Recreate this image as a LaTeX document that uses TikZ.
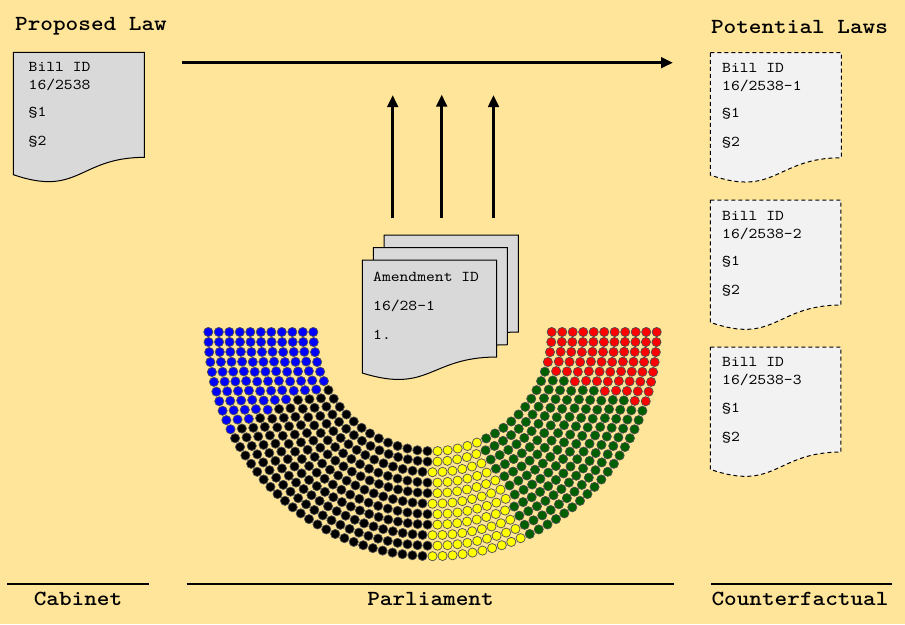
\documentclass[tikz,border=0pt]{standalone}
\usepackage{fontspec}
\setmonofont{lmmono10-regular.otf}[BoldFont=lmmonolt10-bold.otf, FakeStretch=1.12]
\usetikzlibrary{arrows.meta}
\definecolor{bg}{HTML}{FFE599}
\definecolor{docgray}{HTML}{D9D9D9}
\definecolor{doclight}{HTML}{F2F2F2}
\definecolor{sblue}{HTML}{0000FF}
\definecolor{sblack}{HTML}{000000}
\definecolor{syellow}{HTML}{FFFF00}
\definecolor{sgreen}{HTML}{006000}
\definecolor{sred}{HTML}{FF0000}
\definecolor{seatedge}{HTML}{505050}
% #1 style, #2 x, #3 y, #4 w, #5 h
\newcommand{\mydoc}[5]{%
  \draw[#1] (#2,#3) -- ({#2+#4},#3) -- ({#2+#4},{#3+0.802*#5})
    .. controls ({#2+#4/2},{#3+0.802*#5}) and ({#2+#4/2},{#3+1.1075*#5}) ..
    (#2,{#3+0.934*#5}) -- cycle;}
\begin{document}
\begin{tikzpicture}[x=1pt,y=-1pt,
  doctext/.style={anchor=west, inner sep=0pt, font=\ttfamily\fontsize{15}{18}\selectfont},
  titletext/.style={inner sep=0pt, font=\ttfamily\bfseries\fontsize{21.5}{25}\selectfont},
  solidoc/.style={draw=black, fill=docgray, line width=1pt},
  dashdoc/.style={draw=black, fill=doclight, line width=1pt, dash pattern=on 4pt off 3pt},
  arr/.style={line width=3.3pt, -{Triangle[length=12pt,width=10.5pt]}},
  baseline/.style={line width=2pt},
  seat/.style={draw=seatedge, line width=0.7pt}]
\useasboundingbox (0,0) rectangle (905,624);
\fill[bg] (0,0) rectangle (905,624);

% titles
\node[titletext] (tprop) at (91,26) {Proposed Law};
\node[titletext] (tpot) at (799.5,27) {Potential Laws};

% proposed law document
\mydoc{solidoc}{13.3}{52.3}{131}{131}
\node[doctext] (p1) at (28.5,67) {Bill ID};
\node[doctext] (p2) at (28.5,85) {16/2538};
\node[doctext] (p3) at (28.5,113) {§1};
\node[doctext] (p4) at (28.5,141.5) {§2};

% potential laws
\mydoc{dashdoc}{710.3}{52.7}{131}{131}
\node[doctext] (a1) at (722,68) {Bill ID};
\node[doctext] (a2) at (722,86) {16/2538-1};
\node[doctext] (a3) at (722,114) {§1};
\node[doctext] (a4) at (722,142.5) {§2};

\mydoc{dashdoc}{710.3}{200}{130.5}{131}
\node[doctext] (b1) at (722,215.5) {Bill ID};
\node[doctext] (b2) at (722,233.5) {16/2538-2};
\node[doctext] (b3) at (722,262) {§1};
\node[doctext] (b4) at (722,291) {§2};

\mydoc{dashdoc}{710.3}{347}{130.5}{131}
\node[doctext] (c1) at (722,362) {Bill ID};
\node[doctext] (c2) at (722,380) {16/2538-3};
\node[doctext] (c3) at (722,408.5) {§1};
\node[doctext] (c4) at (722,437.5) {§2};

% amendments stack
\mydoc{solidoc}{384}{235}{134.3}{121}
\mydoc{solidoc}{373.3}{247.7}{134}{121}
\mydoc{solidoc}{362.3}{260}{134.4}{121}
\node[doctext] (m1) at (373,277.3) {Amendment ID};
\node[doctext] (m2) at (373,306) {16/28-1};
\node[doctext] (m3) at (373,335) {1.};

% arrows
\coordinate (hs) at (182,62.7);
\coordinate (he) at (673,62.7);
\draw[arr] (hs) -- (he);
\coordinate (v1s) at (392.7,218.3);
\coordinate (v1e) at (392.7,95);
\coordinate (v2s) at (441.7,217.5);
\coordinate (v2e) at (441.7,94.5);
\coordinate (v3s) at (493.5,218.3);
\coordinate (v3e) at (493.5,95);
\draw[arr] (v1s) -- (v1e);
\draw[arr] (v2s) -- (v2e);
\draw[arr] (v3s) -- (v3e);

% parliament seats
\foreach \i in {0,...,10}{
  \pgfmathsetmacro{\rr}{119.2+10.5*\i}
  \pgfmathtruncatemacro{\nn}{round(pi*\rr/10)}
  \foreach \j in {0,...,\nn}{
    \pgfmathsetmacro{\ff}{\j/\nn}
    \pgfmathsetmacro{\ang}{180+180*\ff}
    \ifdim\ff pt<0.147pt \def\col{sblue}\else
      \ifdim\ff pt<0.495pt \def\col{sblack}\else
        \ifdim\ff pt<0.633pt \def\col{syellow}\else
          \ifdim\ff pt<0.893pt \def\col{sgreen}\else \def\col{sred}\fi\fi\fi\fi
    \fill[seat, fill=\col] ({432.5+\rr*cos(\ang)},{332-\rr*sin(\ang)}) circle[radius=4.6pt];
  }
}

% bottom lines and labels
\coordinate (l1a) at (7,583.7);
\coordinate (l1b) at (149,583.7);
\coordinate (l2a) at (186.5,583.7);
\coordinate (l2b) at (674,583.7);
\coordinate (l3a) at (711,583.7);
\coordinate (l3b) at (891.5,583.7);
\draw[baseline] (l1a) -- (l1b);
\draw[baseline] (l2a) -- (l2b);
\draw[baseline] (l3a) -- (l3b);
\node[titletext] (cab) at (78,599.3) {Cabinet};
\node[titletext] (par) at (430.5,599.3) {Parliament};
\node[titletext] (cf) at (800,599.3) {Counterfactual};
\end{tikzpicture}
\end{document}
